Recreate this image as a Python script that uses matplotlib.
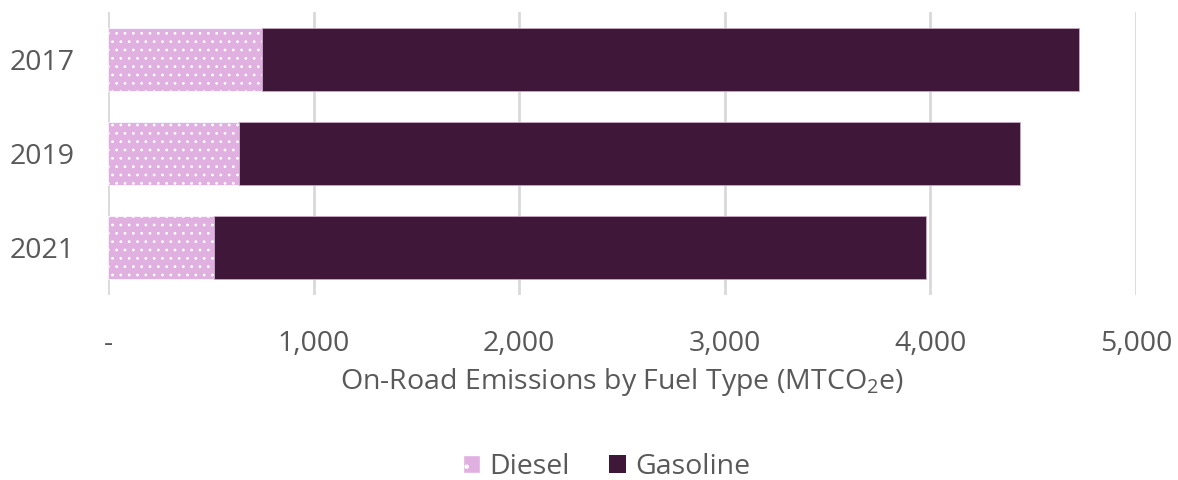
import matplotlib.pyplot as plt
from matplotlib.patches import Patch
from matplotlib.ticker import FuncFormatter

years = ['2017', '2019', '2021']
diesel = [750, 637, 515]
gasoline = [3973, 3799, 3462]

diesel_color = '#E0B0E0'
gasoline_color = '#3E1739'
text_color = '#595959'

plt.rcParams['font.family'] = ['Open Sans', 'DejaVu Sans']
plt.rcParams['mathtext.fontset'] = 'custom'
plt.rcParams['mathtext.rm'] = 'Open Sans'
plt.rcParams['hatch.color'] = '#F6E6F6'
plt.rcParams['hatch.linewidth'] = 0.8

fs = 20.5

fig = plt.figure(figsize=(11.78, 4.8), dpi=100)
ax = fig.add_axes([108 / 1178, 1 - 295 / 480, (1136 - 108) / 1178, 283 / 480])

ypos = list(range(len(years)))
ax.barh(ypos, diesel, height=0.667, color=diesel_color, edgecolor='white',
        linewidth=0.5, hatch='..', zorder=3)
ax.barh(ypos, gasoline, left=diesel, height=0.667, color=gasoline_color,
        edgecolor='#C9A9C6', linewidth=0.6, zorder=3)

ax.set_xlim(0, 5000)
ax.set_ylim(2.5, -0.5)
ax.set_yticks(ypos)
ax.set_yticklabels(years)
ax.set_xticks([0, 1000, 2000, 3000, 4000, 5000])
ax.xaxis.set_major_formatter(FuncFormatter(lambda v, p: '-' if v == 0 else f'{int(v):,}'))

ax.grid(axis='x', color='#D9D9D9', linewidth=2, zorder=0)
for s in ax.spines.values():
    s.set_visible(False)
ax.tick_params(axis='both', length=0, labelsize=fs, colors=text_color)
ax.tick_params(axis='x', pad=25)
ax.tick_params(axis='y', pad=24)

ax.set_xlabel('On-Road Emissions by Fuel Type (MTCO$_2$e)', fontsize=fs,
              color=text_color, labelpad=6)

handles = [Patch(facecolor=diesel_color, edgecolor='white', hatch='.', label='Diesel'),
           Patch(facecolor=gasoline_color, label='Gasoline')]
leg = fig.legend(handles=handles, loc='center', bbox_to_anchor=(0.515, 1 - 467 / 480),
                 ncol=2, frameon=False, fontsize=fs, handlelength=0.6,
                 handleheight=0.6, handletextpad=0.3, columnspacing=1.4)
for t in leg.get_texts():
    t.set_color(text_color)

fig.savefig('out.png', dpi=100)
